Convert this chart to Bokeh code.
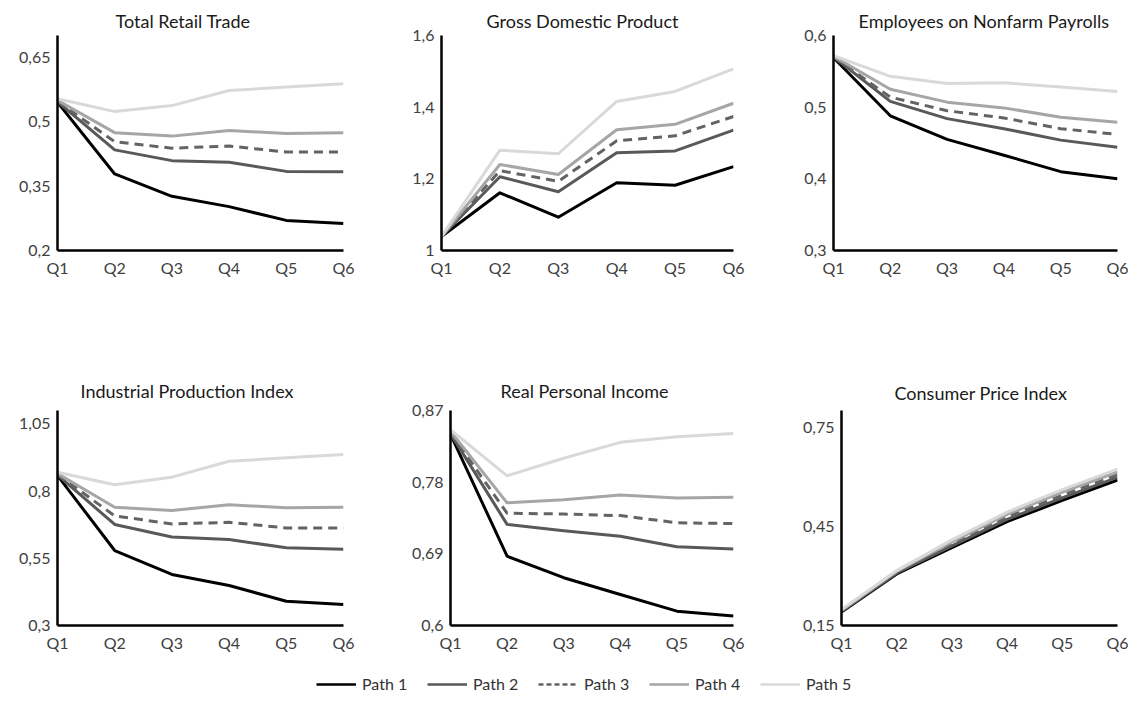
from bokeh.plotting import figure
from bokeh.layouts import column, row
from bokeh.models import (FixedTicker, CustomJSTickFormatter, Range1d, Legend,
                          LegendItem, ColumnDataSource)
from bokeh.embed import file_html
from bokeh.resources import INLINE

quarters = ["Q1", "Q2", "Q3", "Q4", "Q5", "Q6"]
path_names = ["Path 1", "Path 2", "Path 3", "Path 4", "Path 5"]

retail = [
    [0.545, 0.378, 0.326, 0.302, 0.270, 0.263],
    [0.546, 0.434, 0.409, 0.405, 0.384, 0.383],
    [0.547, 0.453, 0.438, 0.443, 0.429, 0.429],
    [0.549, 0.474, 0.466, 0.479, 0.472, 0.474],
    [0.553, 0.523, 0.537, 0.572, 0.580, 0.588],
]
gdp = [
    [1.039, 1.161, 1.093, 1.189, 1.182, 1.234],
    [1.039, 1.206, 1.164, 1.273, 1.278, 1.336],
    [1.039, 1.223, 1.193, 1.306, 1.320, 1.374],
    [1.039, 1.240, 1.212, 1.337, 1.352, 1.411],
    [1.039, 1.280, 1.270, 1.416, 1.444, 1.507],
]
payrolls = [
    [0.569, 0.488, 0.455, 0.433, 0.410, 0.400],
    [0.570, 0.508, 0.484, 0.470, 0.454, 0.444],
    [0.570, 0.514, 0.495, 0.485, 0.470, 0.462],
    [0.571, 0.525, 0.507, 0.499, 0.486, 0.479],
    [0.572, 0.543, 0.533, 0.534, 0.528, 0.522],
]
industrial = [
    [0.858, 0.579, 0.490, 0.449, 0.390, 0.378],
    [0.860, 0.676, 0.629, 0.620, 0.589, 0.584],
    [0.862, 0.708, 0.678, 0.684, 0.663, 0.663],
    [0.865, 0.740, 0.728, 0.749, 0.738, 0.740],
    [0.870, 0.824, 0.852, 0.911, 0.924, 0.936],
]
income = [
    [0.840, 0.687, 0.660, 0.639, 0.618, 0.612],
    [0.841, 0.727, 0.719, 0.712, 0.699, 0.696],
    [0.842, 0.741, 0.740, 0.738, 0.729, 0.728],
    [0.844, 0.754, 0.758, 0.764, 0.760, 0.761],
    [0.846, 0.788, 0.810, 0.830, 0.837, 0.841],
]
cpi = [
    [0.191, 0.306, 0.385, 0.464, 0.528, 0.590],
    [0.193, 0.309, 0.391, 0.471, 0.536, 0.598],
    [0.194, 0.311, 0.397, 0.479, 0.544, 0.606],
    [0.196, 0.314, 0.403, 0.486, 0.553, 0.614],
    [0.198, 0.316, 0.409, 0.493, 0.561, 0.623],
]

titles = ["Total Retail Trade", "Gross Domestic Product", "Employees on Nonfarm Payrolls",
          "Industrial Production Index", "Real Personal Income", "Consumer Price Index"]
y_ticks = [
    [0.2, 0.35, 0.5, 0.65],
    [1.0, 1.2, 1.4, 1.6],
    [0.3, 0.4, 0.5, 0.6],
    [0.3, 0.55, 0.8, 1.05],
    [0.6, 0.69, 0.78, 0.87],
    [0.15, 0.45, 0.75],
]
y_limits = [(0.2, 0.7), (1.0, 1.6), (0.3, 0.6), (0.3, 1.1), (0.6, 0.87), (0.15, 0.8)]
datasets = [retail, gdp, payrolls, industrial, income, cpi]

colors = ["#000000", "#595959", "#636363", "#a6a6a6", "#d9d9d9"]
dashes = ["solid", "solid", "9 6", "solid", "solid"]

FONT = "Lato"

# layout geometry: (width, height, border left, right, top, bottom, title standoff, title offset)
geom = [
    (380, 360, 57, 37, 35, 110, 8, 58),
    (372, 360, 61, 19, 35, 110, 8, 45),
    (376, 360, 81, 11, 35, 110, 8, 25),
    (380, 295, 57, 37, 45, 30, 18, 23),
    (372, 295, 70, 19, 45, 30, 18, 50),
    (376, 295, 89, 11, 50, 30, 14, 53),
]

xs = list(range(len(quarters)))
x_fmt_code = "return labels[Math.round(tick)] || ''"
y_fmt_code = "return String(Math.round(tick*100)/100).replace('.', ',')"

figs = []
for i in range(6):
    w, h, bl, br, bt, bb, so, off = geom[i]
    p = figure(width=w, height=h, output_backend="svg", toolbar_location=None,
               x_range=Range1d(0, len(quarters) - 1),
               y_range=Range1d(*y_limits[i]),
               min_border_left=bl, min_border_right=br,
               min_border_top=bt, min_border_bottom=bb)
    p.title.text = titles[i]
    p.title.align = "left"
    p.title.offset = off
    p.title.text_font = FONT
    p.title.text_font_size = "18px"
    p.title.text_font_style = "normal"
    p.title.text_color = "#1a1a1a"
    p.title.standoff = so
    p.outline_line_color = None
    p.xgrid.visible = False
    p.ygrid.visible = False
    p.background_fill_color = "white"
    p.border_fill_color = "white"

    for ax in (p.xaxis[0], p.yaxis[0]):
        ax.axis_line_color = "black"
        ax.axis_line_width = 2.5
        ax.major_tick_line_color = None
        ax.minor_tick_line_color = None
        ax.major_tick_out = 0
        ax.major_tick_in = 0
        ax.major_label_standoff = 7
        ax.major_label_text_font = FONT
        ax.major_label_text_font_size = "16px"
        ax.major_label_text_color = "#404040"

    p.xaxis[0].ticker = FixedTicker(ticks=xs)
    p.xaxis[0].formatter = CustomJSTickFormatter(args=dict(labels=quarters), code=x_fmt_code)
    p.yaxis[0].ticker = FixedTicker(ticks=y_ticks[i])
    p.yaxis[0].formatter = CustomJSTickFormatter(code=y_fmt_code)

    for k, series in enumerate(datasets[i]):
        src = ColumnDataSource(data=dict(x=xs, y=series))
        p.line("x", "y", source=src, line_color=colors[k], line_width=3,
               line_dash=dashes[k], line_join="round", line_cap="butt")
    figs.append(p)

# legend strip (its own lines lie outside the visible range; only the legend shows)
lg = figure(width=1128, height=38, output_backend="svg", toolbar_location=None,
            x_axis_type=None, y_axis_type=None, x_range=Range1d(0, 1), y_range=Range1d(0, 1),
            min_border=0, min_border_left=0, min_border_right=0,
            min_border_top=0, min_border_bottom=0)
lg.outline_line_color = None
lg.xgrid.visible = False
lg.ygrid.visible = False
items = []
for k, name in enumerate(path_names):
    r = lg.line(x=[0, 1], y=[5, 5], line_color=colors[k], line_width=2.5,
                line_dash=dashes[k] if k != 2 else "5 3")
    items.append(LegendItem(label=name, renderers=[r]))
legend = Legend(items=items, orientation="horizontal", location=(316, 0),
                glyph_width=40, glyph_height=18, label_height=18, label_standoff=6,
                label_width=55, spacing=10, padding=0, margin=0,
                border_line_color=None, background_fill_alpha=0,
                label_text_font=FONT, label_text_font_size="16px",
                label_text_color="#333333")
lg.add_layout(legend)

layout = column(row(*figs[:3]), row(*figs[3:]), lg)

open("out.html", "w").write(file_html(layout, INLINE))
